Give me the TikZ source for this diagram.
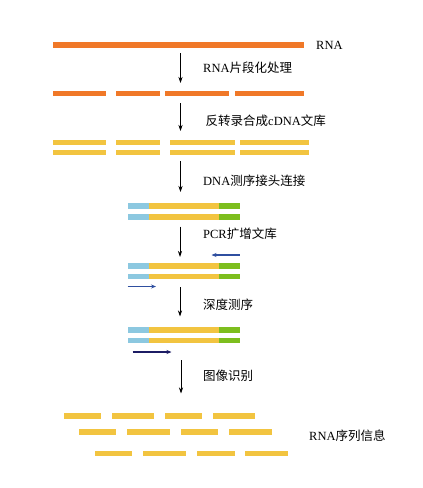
\documentclass[tikz,border=0pt]{standalone}
\usepackage{fontspec}
\setmainfont{Liberation Serif}
\newfontfamily\cjk{Noto Sans CJK SC}
\usetikzlibrary{arrows.meta}
\definecolor{rnaor}{HTML}{F07828}
\definecolor{dnaye}{HTML}{F2C440}
\definecolor{adblue}{HTML}{8CC8E0}
\definecolor{adgreen}{HTML}{7DBE1E}
\definecolor{primblue}{HTML}{2F4FA0}
\definecolor{seqnavy}{HTML}{1C1C64}
\begin{document}
\begin{tikzpicture}[x=1pt,y=-1pt,
  stepline/.style={draw=black,line width=0.8pt,-{Stealth[length=6pt,width=4pt]}},
  steplabel/.style={anchor=west,inner sep=0pt,font=\fontsize{12.5}{14}\selectfont},
  primer/.style={line width=1.2pt,-{Stealth[length=5pt,width=4pt]}},
  orbar/.style={fill=rnaor},
  yebar/.style={fill=dnaye}]
\useasboundingbox (0,0) rectangle (423,488);
% bar helper: \bar{x1}{x2}{y}{style}
\newcommand{\seg}[4]{\fill[#4] (#1,#3-2.6) rectangle (#2,#3+2.6);}
\newcommand{\adapt}[1]{%
  \fill[adblue] (127.5,#1-2.6) rectangle (149,#1+2.6);
  \fill[dnaye] (149,#1-2.6) rectangle (218.5,#1+2.6);
  \fill[adgreen] (218.5,#1-2.6) rectangle (239.5,#1+2.6);}
% row 1
\seg{52.5}{304}{45}{orbar}
\node[steplabel] (rna) at (316,45) {RNA};
% arrow 1
\coordinate (a1s) at (180.5,53);
\coordinate (a1e) at (180.5,83);
\draw[stepline] (a1s) -- (a1e);
\node[steplabel] (l1) at (203,68) {RNA{\cjk 片段化处理}};
% row 2
\seg{52.5}{105.5}{93.5}{orbar}
\seg{116}{159.5}{93.5}{orbar}
\seg{164.5}{229}{93.5}{orbar}
\seg{234.5}{304}{93.5}{orbar}
% arrow 2
\coordinate (a2s) at (180.5,103);
\coordinate (a2e) at (180.5,131);
\draw[stepline] (a2s) -- (a2e);
\node[steplabel] (l2) at (205.5,121) {{\cjk 反转录合成}cDNA{\cjk 文库}};
% row 3
\foreach \yy in {142.5,152.5}{
\seg{52.5}{105.5}{\yy}{yebar}
\seg{116}{159.5}{\yy}{yebar}
\seg{170}{234.5}{\yy}{yebar}
\seg{239.5}{308.5}{\yy}{yebar}
}
% arrow 3
\coordinate (a3s) at (180.5,161);
\coordinate (a3e) at (180.5,192);
\draw[stepline] (a3s) -- (a3e);
\node[steplabel] (l3) at (203,181) {DNA{\cjk 测序接头连接}};
% row 4
\adapt{206}
\adapt{217}
% arrow 4
\coordinate (a4s) at (180,226.5);
\coordinate (a4e) at (180,257);
\draw[stepline] (a4s) -- (a4e);
\node[steplabel] (l4) at (203,233.5) {PCR{\cjk 扩增文库}};
\coordinate (p1s) at (239.5,255);
\coordinate (p1e) at (211.5,255);
\draw[primer,draw=primblue] (p1s) -- (p1e);
% row 5
\adapt{266}
\adapt{276.5}
\coordinate (p2s) at (127.5,286.5);
\coordinate (p2e) at (156,286.5);
\draw[primer,draw=primblue] (p2s) -- (p2e);
% arrow 5
\coordinate (a5s) at (180,287);
\coordinate (a5e) at (180,316.5);
\draw[stepline] (a5s) -- (a5e);
\node[steplabel] (l5) at (203,304.5) {\cjk 深度测序};
% row 6
\adapt{330}
\adapt{340.5}
\coordinate (p3s) at (132.5,352);
\coordinate (p3e) at (171.5,352);
\draw[primer,draw=seqnavy] (p3s) -- (p3e);
% arrow 6
\coordinate (a6s) at (181,360);
\coordinate (a6e) at (181,393.5);
\draw[stepline] (a6s) -- (a6e);
\node[steplabel] (l6) at (203,376) {\cjk 图像识别};
% final rows
\seg{63.5}{100.5}{416}{yebar}
\seg{111.5}{153.5}{416}{yebar}
\seg{164.5}{201.5}{416}{yebar}
\seg{212.5}{255}{416}{yebar}
\seg{79}{116}{432}{yebar}
\seg{127}{169.5}{432}{yebar}
\seg{180.5}{217.5}{432}{yebar}
\seg{229}{271.5}{432}{yebar}
\seg{95}{132}{453.5}{yebar}
\seg{143}{186}{453.5}{yebar}
\seg{197}{234.5}{453.5}{yebar}
\seg{245}{287.5}{453.5}{yebar}
\node[steplabel] (l7) at (309,436) {RNA{\cjk 序列信息}};
\end{tikzpicture}
\end{document}
